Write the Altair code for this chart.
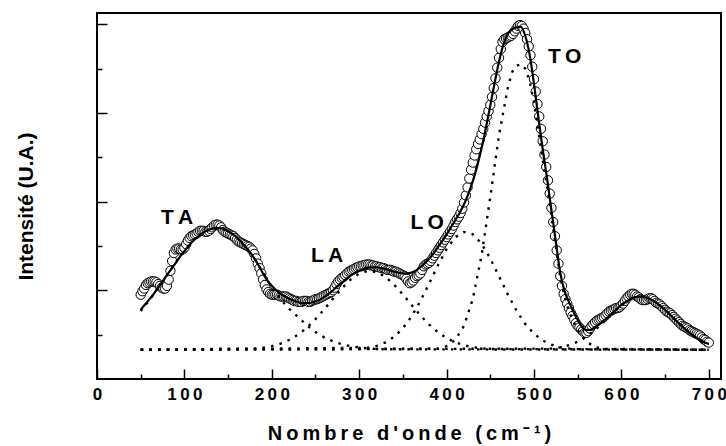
import altair as alt
import pandas as pd

# ---------------- data ----------------
# experimental spectrum (open circles), one value every 2 cm-1 from 50 to 700
data_y = [
    0.95, 0.99, 1.02, 1.06, 1.08, 1.09, 1.10, 1.10, 1.10, 1.09,   # 50-68
    1.07, 1.05, 1.03, 1.02, 1.02, 1.05, 1.12, 1.22, 1.33, 1.42,   # 70-88
    1.46, 1.47, 1.47, 1.46, 1.46, 1.48, 1.52, 1.56, 1.59, 1.61,   # 90-108
    1.62, 1.63, 1.64, 1.66, 1.67, 1.67, 1.67, 1.66, 1.66, 1.67,   # 110-128
    1.69, 1.71, 1.73, 1.74, 1.74, 1.73, 1.71, 1.68, 1.66, 1.65,   # 130-148
    1.64, 1.63, 1.62, 1.61, 1.59, 1.57, 1.55, 1.54, 1.53, 1.52,   # 150-168
    1.51, 1.50, 1.49, 1.47, 1.45, 1.41, 1.36, 1.30, 1.25, 1.19,   # 170-188
    1.12, 1.06, 1.01, 0.98, 0.96, 0.95, 0.95, 0.95, 0.95, 0.94,   # 190-208
    0.93, 0.93, 0.93, 0.93, 0.92, 0.91, 0.90, 0.89, 0.88, 0.88,   # 210-228
    0.87, 0.87, 0.87, 0.88, 0.88, 0.88, 0.87, 0.87, 0.88, 0.89,   # 230-248
    0.90, 0.90, 0.91, 0.92, 0.93, 0.94, 0.95, 0.96, 0.97, 0.98,   # 250-268
    1.00, 1.03, 1.07, 1.10, 1.12, 1.14, 1.15, 1.17, 1.19, 1.21,   # 270-288
    1.22, 1.23, 1.24, 1.25, 1.26, 1.27, 1.27, 1.28, 1.28, 1.29,   # 290-308
    1.29, 1.29, 1.28, 1.28, 1.27, 1.27, 1.26, 1.26, 1.25, 1.25,   # 310-328
    1.24, 1.23, 1.23, 1.23, 1.22, 1.21, 1.21, 1.20, 1.19, 1.18,   # 330-348
    1.17, 1.16, 1.13, 1.10, 1.08, 1.09, 1.11, 1.14, 1.16, 1.17,   # 350-368
    1.19, 1.23, 1.27, 1.29, 1.30, 1.31, 1.33, 1.36, 1.39, 1.42,   # 370-388
    1.45, 1.48, 1.51, 1.54, 1.57, 1.60, 1.63, 1.66, 1.69, 1.73,   # 390-408
    1.77, 1.80, 1.83, 1.87, 1.92, 1.99, 2.07, 2.16, 2.26, 2.36,   # 410-428
    2.44, 2.52, 2.59, 2.65, 2.70, 2.76, 2.82, 2.89, 2.96, 3.02,   # 430-448
    3.09, 3.18, 3.28, 3.39, 3.51, 3.62, 3.72, 3.80, 3.83, 3.84,   # 450-468
    3.85, 3.86, 3.87, 3.89, 3.92, 3.95, 3.98, 3.99, 3.98, 3.95,   # 470-488
    3.90, 3.83, 3.75, 3.65, 3.52, 3.38, 3.24, 3.10, 2.96, 2.82,   # 490-508
    2.68, 2.53, 2.39, 2.24, 2.09, 1.93, 1.77, 1.61, 1.45, 1.30,   # 510-528
    1.16, 1.05, 0.96, 0.90, 0.85, 0.80, 0.75, 0.71, 0.67, 0.63,   # 530-548
    0.60, 0.58, 0.56, 0.54, 0.52, 0.52, 0.54, 0.57, 0.60, 0.62,   # 550-568
    0.64, 0.66, 0.67, 0.68, 0.69, 0.70, 0.72, 0.74, 0.76, 0.77,   # 570-588
    0.78, 0.79, 0.80, 0.80, 0.81, 0.83, 0.85, 0.88, 0.91, 0.93,   # 590-608
    0.95, 0.96, 0.96, 0.95, 0.93, 0.92, 0.90, 0.89, 0.89, 0.89,   # 610-628
    0.90, 0.91, 0.91, 0.90, 0.88, 0.86, 0.85, 0.84, 0.82, 0.80,   # 630-648
    0.78, 0.76, 0.75, 0.74, 0.72, 0.70, 0.68, 0.66, 0.64, 0.62,   # 650-668
    0.60, 0.59, 0.58, 0.57, 0.55, 0.54, 0.53, 0.52, 0.51, 0.50,   # 670-688
    0.49, 0.47, 0.45, 0.44, 0.42, 0.41,                           # 690-700
]
data_x = list(range(50, 701, 2))

# fitted curve (solid line), one value every 5 cm-1
fit_y = [
    0.78, 0.84, 0.90, 0.96, 1.03, 1.10, 1.17, 1.24, 1.31, 1.38,   # 50-95
    1.44, 1.50, 1.56, 1.60, 1.64, 1.67, 1.69, 1.70, 1.70, 1.69,   # 100-145
    1.665, 1.635, 1.595, 1.545, 1.49, 1.43, 1.36, 1.28, 1.19, 1.11,  # 150-195
    1.05, 1.00, 0.96, 0.93, 0.905, 0.885, 0.865, 0.855, 0.855, 0.86,  # 200-245
    0.875, 0.895, 0.925, 0.96, 1.00, 1.045, 1.085, 1.125, 1.165, 1.195,  # 250-295
    1.22, 1.24, 1.255, 1.26, 1.26, 1.25, 1.24, 1.225, 1.21, 1.20,  # 300-345
    1.19, 1.19, 1.20, 1.225, 1.26, 1.305, 1.355, 1.415, 1.485, 1.555,  # 350-395
    1.63, 1.71, 1.79, 1.875, 1.97, 2.09, 2.23, 2.40, 2.60, 2.83,  # 400-445
    3.08, 3.34, 3.58, 3.77, 3.89, 3.94, 3.965, 3.97, 3.87, 3.66,  # 450-495
    3.33, 2.95, 2.59, 2.26, 1.90, 1.55, 1.20, 0.99, 0.87, 0.76,  # 500-545
    0.665, 0.585, 0.55, 0.555, 0.585, 0.62, 0.66, 0.70, 0.745, 0.79,  # 550-595
    0.835, 0.87, 0.90, 0.92, 0.93, 0.925, 0.915, 0.89, 0.86, 0.82,  # 600-645
    0.78, 0.73, 0.685, 0.635, 0.59, 0.545, 0.505, 0.47, 0.44, 0.415,  # 650-695
    0.395,                                                          # 700
]
fit_x = list(range(50, 701, 5))

# fitted components (dotted lines)
ta_x = [50, 60, 70, 80, 90, 100, 110, 120, 130, 140, 150, 160, 170, 180, 190,
        200, 210, 220, 230, 240, 250, 260, 270, 280, 290, 300, 310, 320, 330, 700]
ta_y = [0.766, 0.889, 1.025, 1.168, 1.311, 1.444, 1.557, 1.641, 1.690, 1.698,
        1.665, 1.595, 1.492, 1.36, 1.20, 1.03, 0.90, 0.79, 0.70, 0.606,
        0.529, 0.469, 0.424, 0.392, 0.370, 0.355, 0.345, 0.339, 0.335, 0.33]

la_x = [50, 180, 190, 200, 210, 220, 230, 240, 250, 260, 270, 280, 290, 300, 310,
        320, 330, 340, 350, 360, 370, 380, 390, 400, 410, 420, 430, 440, 450, 700]
la_y = [0.33, 0.342, 0.353, 0.370, 0.398, 0.440, 0.499, 0.577, 0.674, 0.786,
        0.906, 1.021, 1.120, 1.189, 1.219, 1.206, 1.152, 1.063, 0.953, 0.834,
        0.718, 0.614, 0.528, 0.4615, 0.413, 0.380, 0.359, 0.346, 0.338, 0.33]

lo_x = [50, 310, 320, 330, 340, 350, 360, 370, 380, 390, 400, 410, 420, 430,
        440, 450, 460, 470, 480, 490, 500, 510, 520, 530, 540, 550, 700]
lo_y = [0.33, 0.352, 0.374, 0.412, 0.476, 0.572, 0.706, 0.877, 1.075, 1.280,
        1.464, 1.599, 1.658, 1.632, 1.526, 1.358, 1.157, 0.954, 0.770, 0.621,
        0.510, 0.434, 0.387, 0.359, 0.3435, 0.337, 0.33]

to_x = [50, 390, 400, 410, 420, 430, 440, 450, 460, 470, 475, 480, 485, 490, 495,
        500, 505, 510, 515, 520, 525, 530, 535, 540, 550, 560, 570, 580, 700]
to_y = [0.33, 0.342, 0.370, 0.441, 0.600, 0.904, 1.39, 2.05, 2.75, 3.28,
        3.46, 3.53, 3.55, 3.50, 3.36, 3.12, 2.80, 2.47, 2.17, 1.83,
        1.50, 1.15, 0.93, 0.76, 0.55, 0.42, 0.36, 0.34, 0.33]

p5_x = [50, 520, 530, 540, 550, 560, 570, 580, 590, 600, 610, 620, 630, 640,
        650, 660, 670, 680, 690, 700]
p5_y = [0.33, 0.343, 0.357, 0.3815, 0.420, 0.477, 0.5535, 0.645, 0.743, 0.833,
        0.899, 0.929, 0.916, 0.863, 0.781, 0.684, 0.589, 0.506, 0.441, 0.395]

# peak labels
peak_names = ["TA", "LA", "LO", "TO"]
peak_x = [91.7, 263.3, 377.7, 535.0]
peak_y = [1.82, 1.39, 1.76, 3.63]

# axis ticks
x_major = [0, 100, 200, 300, 400, 500, 600, 700]
x_major_labels = ["0", "100", "200", "300", "400", "500", "600", "700"]
x_minor = [50, 150, 250, 350, 450, 550, 650]
y_major = [1, 2, 3, 4]
y_minor = [0.5, 1.5, 2.5, 3.5]

x_title = "Nombre d'onde (cm⁻¹)"
y_title = "Intensité (U.A.)"

# ---------------- build chart ----------------
FONT = "Liberation Sans"
THIN = "\u2009"

df_data = pd.DataFrame({"x": data_x, "y": data_y})
df_fit = pd.DataFrame({"x": fit_x, "y": fit_y})
comp_frames = []
for name, xs, ys in [("TA", ta_x, ta_y), ("LA", la_x, la_y), ("LO", lo_x, lo_y),
                     ("TO", to_x, to_y), ("P5", p5_x, p5_y)]:
    comp_frames.append(pd.DataFrame({"x": xs, "y": ys, "comp": name}))
df_comp = pd.concat(comp_frames, ignore_index=True)
df_lab = pd.DataFrame({"x": peak_x, "y": peak_y,
                       "t": [THIN.join(n) for n in peak_names]})

xscale = alt.Scale(domain=[0, 714], nice=False, zero=False)
yscale = alt.Scale(domain=[0, 4.126], nice=False, zero=False)

label_expr = " : ".join(
    f"datum.value == {v} ? '{THIN.join(l)}'" for v, l in zip(x_major, x_major_labels)
) + " : ''"

x_axis_major = alt.Axis(
    orient="bottom", values=x_major, offset=-10, tickSize=10, tickWidth=1.5,
    tickColor="black", domain=False, grid=False, labelExpr=label_expr,
    labelFont=FONT, labelFontSize=17, labelFontWeight="bold", labelColor="black",
    labelPadding=7, labelFlush=False, labelOverlap=False,
    title=THIN.join(x_title), titleFont=FONT, titleFontSize=20,
    titleFontWeight="bold", titleColor="black", titleX=312, titleY=70,
    titleBaseline="alphabetic", titleAlign="center",
)
x_axis_minor = alt.Axis(
    orient="bottom", values=x_minor, offset=-5, tickSize=5, tickWidth=1.5,
    tickColor="black", domain=False, grid=False, labels=False, title="",
)
y_axis_major = alt.Axis(
    orient="left", values=y_major, offset=-10, tickSize=10, tickWidth=1.5,
    tickColor="black", domain=False, grid=False, labels=False,
    title=y_title, titleFont=FONT, titleFontSize=21, titleFontWeight="bold",
    titleColor="black", titleX=-71, titleY=193, titleAngle=270,
    titleAlign="center", titleBaseline="bottom",
)
y_axis_minor = alt.Axis(
    orient="left", values=y_minor, offset=-5, tickSize=5, tickWidth=1.5,
    tickColor="black", domain=False, grid=False, labels=False, title="",
)

points = alt.Chart(df_data).mark_circle(
    fill="white", stroke="black", strokeWidth=1, size=88, opacity=1,
    fillOpacity=1, strokeOpacity=1,
).encode(
    x=alt.X("x:Q", scale=xscale, axis=x_axis_major),
    y=alt.Y("y:Q", scale=yscale, axis=y_axis_major),
)

comps = alt.Chart(df_comp).mark_line(
    color="black", strokeWidth=2.4, strokeDash=[2.5, 6.2], strokeCap="butt",
).encode(
    x=alt.X("x:Q", scale=xscale, axis=None),
    y=alt.Y("y:Q", scale=yscale, axis=None),
    detail="comp:N",
)

fit = alt.Chart(df_fit).mark_line(
    color="black", strokeWidth=2.2, interpolate="monotone",
).encode(
    x=alt.X("x:Q", scale=xscale, axis=x_axis_minor),
    y=alt.Y("y:Q", scale=yscale, axis=y_axis_minor),
)

labels = alt.Chart(df_lab).mark_text(
    font=FONT, fontSize=21, fontWeight="bold", color="black",
    align="center", baseline="middle",
).encode(
    x=alt.X("x:Q", scale=xscale, axis=None),
    y=alt.Y("y:Q", scale=yscale, axis=None),
    text="t:N",
)

chart = alt.layer(points, comps, fit, labels).resolve_axis(
    x="independent", y="independent"
).properties(
    width=624, height=366,
    autosize=alt.AutoSizeParams(type="none"),
    padding={"left": 97, "top": 13, "right": 5, "bottom": 67},
    background="white",
).configure_view(
    stroke="black", strokeWidth=2,
)

chart.save("out.html", embed_options={"renderer": "svg", "actions": False})
